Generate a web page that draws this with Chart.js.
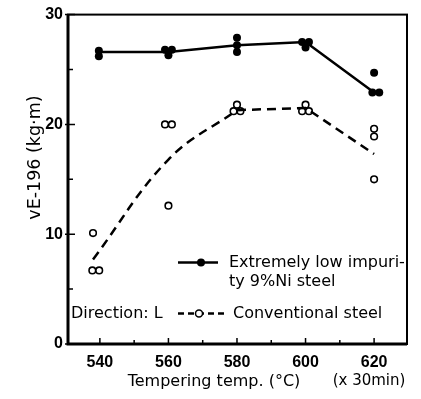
<!DOCTYPE html>
<html>
<head>
<meta charset="utf-8">
<script src="https://cdn.jsdelivr.net/npm/chart.js@4.4.1/dist/chart.umd.min.js"></script>
<style>
  html, body { margin: 0; padding: 0; background: #fff; }
  #wrap { width: 421px; height: 399px; }
</style>
</head>
<body>
<div id="wrap"><canvas id="chart" width="421" height="399"></canvas></div>
<script>
// Tick values
const xTicks = [540, 560, 580, 600, 620];
const xMinorTicks = [550, 570, 590, 610];
const yTicks = [0, 10, 20, 30];
const yMinorTicks = [5, 15, 25];

// Extremely low impurity 9%Ni steel (filled markers)
const lowTemps = [539.7, 539.7, 559, 561, 560, 580, 580, 580, 599, 601, 600, 620, 619.5, 621.5];
const lowValues = [26.7, 26.2, 26.8, 26.8, 26.3, 27.9, 27.2, 26.6, 27.5, 27.5, 27.0, 24.7, 22.9, 22.9];
const lowLineTemps = [540, 560, 580, 600, 620];
const lowLineValues = [26.6, 26.6, 27.2, 27.5, 22.9];

// Conventional steel (open markers)
const convTemps = [538, 537.8, 539.8, 559, 561, 560, 580, 579, 581, 600, 599, 601, 620, 620, 620];
const convValues = [10.1, 6.7, 6.7, 20.0, 20.0, 12.6, 21.8, 21.2, 21.2, 21.8, 21.2, 21.2, 19.6, 18.9, 15.0];
// dashed trend: curved rising part, then straight part
const convCurveTemps = [538, 560, 580];
const convCurveValues = [7.7, 16.8, 21.3];
const convStraightTemps = [580, 600, 620];
const convStraightValues = [21.3, 21.5, 17.3];

const FONT = "'Liberation Sans', Arial, sans-serif";
const TEXT_FONT = "'DejaVu Sans', sans-serif";

const toPoints = (xs, ys) => xs.map((x, i) => ({ x: x, y: ys[i] }));

// Frame, inward ticks, legend and axis titles
const decorPlugin = {
    id: 'decor',
    afterDraw(chart) {
        const ctx = chart.ctx;
        const a = chart.chartArea;
        const xs = chart.scales.x;
        const ys = chart.scales.y;
        ctx.save();
        ctx.strokeStyle = '#000';
        ctx.fillStyle = '#000';

        // frame
        ctx.lineWidth = 2;
        ctx.strokeRect(a.left, a.top, a.right - a.left, a.bottom - a.top);
        ctx.lineWidth = 3;
        ctx.beginPath();
        ctx.moveTo(a.left, a.top);
        ctx.lineTo(a.left, a.bottom);
        ctx.lineTo(a.right, a.bottom);
        ctx.stroke();

        // inward ticks
        ctx.lineWidth = 1.5;
        ctx.beginPath();
        xTicks.forEach(v => {
            const px = xs.getPixelForValue(v);
            ctx.moveTo(px, a.bottom);
            ctx.lineTo(px, a.bottom - 6);
        });
        xMinorTicks.forEach(v => {
            const px = xs.getPixelForValue(v);
            ctx.moveTo(px, a.bottom);
            ctx.lineTo(px, a.bottom - 4);
        });
        yTicks.forEach(v => {
            const py = ys.getPixelForValue(v);
            ctx.moveTo(a.left - 3, py);
            ctx.lineTo(a.left + 7, py);
        });
        yMinorTicks.forEach(v => {
            const py = ys.getPixelForValue(v);
            ctx.moveTo(a.left, py);
            ctx.lineTo(a.left + 5, py);
        });
        ctx.stroke();

        // legend
        const lx = a.left + 110;
        ctx.lineWidth = 2.5;
        ctx.setLineDash([]);
        ctx.beginPath();
        ctx.moveTo(lx, a.top + 248);
        ctx.lineTo(lx + 40, a.top + 248);
        ctx.stroke();
        ctx.beginPath();
        ctx.arc(lx + 23, a.top + 248, 4, 0, Math.PI * 2);
        ctx.fill();

        ctx.setLineDash([6, 4]);
        ctx.beginPath();
        ctx.moveTo(lx, a.top + 299);
        ctx.lineTo(lx + 47, a.top + 299);
        ctx.stroke();
        ctx.setLineDash([]);
        ctx.beginPath();
        ctx.arc(lx + 21, a.top + 299, 3.5, 0, Math.PI * 2);
        ctx.fillStyle = '#fff';
        ctx.fill();
        ctx.lineWidth = 1.5;
        ctx.stroke();
        ctx.fillStyle = '#000';

        ctx.font = '16px ' + TEXT_FONT;
        ctx.textBaseline = 'middle';
        ctx.textAlign = 'left';
        ctx.fillText('Extremely low impuri-', lx + 51, a.top + 248);
        ctx.fillText('ty 9%Ni steel', lx + 51, a.top + 267);
        ctx.fillText('Conventional steel', lx + 55, a.top + 299);
        ctx.fillText('Direction: L', a.left + 3, a.top + 299);

        // axis titles
        ctx.textAlign = 'center';
        ctx.fillText('Tempering temp. (°C)', a.left + 146, a.bottom + 38);
        ctx.font = '15px ' + TEXT_FONT;
        ctx.fillText('(x 30min)', a.right - 38, a.bottom + 37);
        ctx.font = '17.5px ' + TEXT_FONT;
        ctx.translate(35, a.top + 143);
        ctx.rotate(-Math.PI / 2);
        ctx.fillText('vE-196 (kg·m)', 0, 0);
        ctx.restore();
    }
};

const ctx = document.getElementById('chart').getContext('2d');

new Chart(ctx, {
    type: 'scatter',
    data: {
        datasets: [{
            label: 'Extremely low impurity 9%Ni steel',
            type: 'line',
            data: toPoints(lowLineTemps, lowLineValues),
            borderColor: '#000',
            borderWidth: 2.5,
            pointRadius: 0,
            fill: false,
            tension: 0
        }, {
            label: 'Conventional steel (curve)',
            type: 'line',
            data: toPoints(convCurveTemps, convCurveValues),
            borderColor: '#000',
            borderWidth: 2.5,
            borderDash: [9, 6],
            pointRadius: 0,
            fill: false,
            tension: 0.4
        }, {
            label: 'Conventional steel',
            type: 'line',
            data: toPoints(convStraightTemps, convStraightValues),
            borderColor: '#000',
            borderWidth: 2.5,
            borderDash: [9, 6],
            pointRadius: 0,
            fill: false,
            tension: 0
        }, {
            label: 'low points',
            data: toPoints(lowTemps, lowValues),
            backgroundColor: '#000',
            borderColor: '#000',
            pointRadius: 4,
            borderWidth: 0
        }, {
            label: 'conv points',
            data: toPoints(convTemps, convValues),
            backgroundColor: '#fff',
            borderColor: '#000',
            pointRadius: 3.3,
            borderWidth: 1.6
        }]
    },
    options: {
        responsive: false,
        animation: false,
        layout: {
            padding: { top: 11, right: 14, left: 0, bottom: 0 }
        },
        plugins: {
            legend: { display: false },
            tooltip: { enabled: false }
        },
        scales: {
            x: {
                type: 'linear',
                min: 530.7,
                max: 629.6,
                afterBuildTicks: (scale) => {
                    scale.ticks = xTicks.map(v => ({ value: v }));
                },
                afterFit: (scale) => { scale.height = 55; },
                grid: { display: false, drawTicks: false },
                border: { display: false },
                ticks: {
                    color: '#000',
                    padding: 9,
                    font: { family: FONT, size: 16, weight: 'bold' }
                }
            },
            y: {
                min: 0,
                max: 30,
                afterBuildTicks: (scale) => {
                    scale.ticks = yTicks.map(v => ({ value: v }));
                },
                afterFit: (scale) => { scale.width = 68; },
                grid: { display: false, drawTicks: false },
                border: { display: false },
                ticks: {
                    color: '#000',
                    padding: 5,
                    font: { family: FONT, size: 16, weight: 'bold' }
                }
            }
        }
    },
    plugins: [decorPlugin]
});
</script>
</body>
</html>
